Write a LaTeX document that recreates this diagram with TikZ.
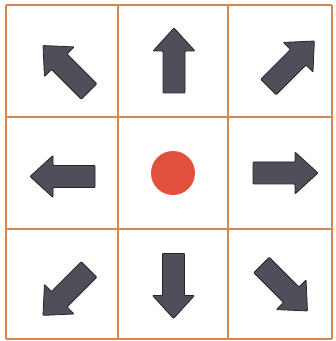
\documentclass[tikz,border=0pt]{standalone}
\definecolor{gridOrange}{HTML}{D4874E}
\definecolor{arrowGray}{HTML}{4F4F59}
\definecolor{arrowEdge}{HTML}{25252B}
\definecolor{dotRed}{HTML}{E2503F}
\usepackage{tikz}
\usetikzlibrary{calc}
\usepackage{xcolor}

\tikzset{
  gridline/.style={draw=gridOrange, line width=1.2pt},
  arrowbody/.style={fill=arrowGray, draw=arrowEdge, line width=0.8pt, line join=round, rounded corners=0.8pt},
  pics/dirarrow/.style={code={
    \path[arrowbody] (-32.5,-11) -- (9.5,-11) -- (9.5,-21) -- (32.5,0)
      -- (9.5,21) -- (9.5,11) -- (-32.5,11) -- cycle;
  }}
}

\begin{document}
\begin{tikzpicture}[x=1pt, y=1pt]
      \useasboundingbox (0,0) rectangle (336,341);
      % grid
      \foreach \gx in {6,118,228,332}
        \draw[gridline] (\gx,2) -- (\gx,336);
      \foreach \gy in {2,112,224,336}
        \draw[gridline] (6,\gy) -- (332,\gy);
      % arrows, ring around the centre cell
      \pic[rotate=135] (arrowNW) at (66,272.5) {dirarrow};
      \pic[rotate=90]  (arrowN)  at (174,280.5) {dirarrow};
      \pic[rotate=45]  (arrowNE) at (291.4,277) {dirarrow};
      \pic[rotate=180] (arrowW)  at (62.5,164.5) {dirarrow};
      \pic             (arrowE)  at (285.5,168) {dirarrow};
      \pic[rotate=225] (arrowSW) at (66,48.6) {dirarrow};
      \pic[rotate=270] (arrowS)  at (173.5,55) {dirarrow};
      \pic[rotate=315] (arrowSE) at (284.5,53) {dirarrow};
      % centre dot
      \fill[dotRed] (173,168) circle (22);
    \end{tikzpicture}
\end{document}
